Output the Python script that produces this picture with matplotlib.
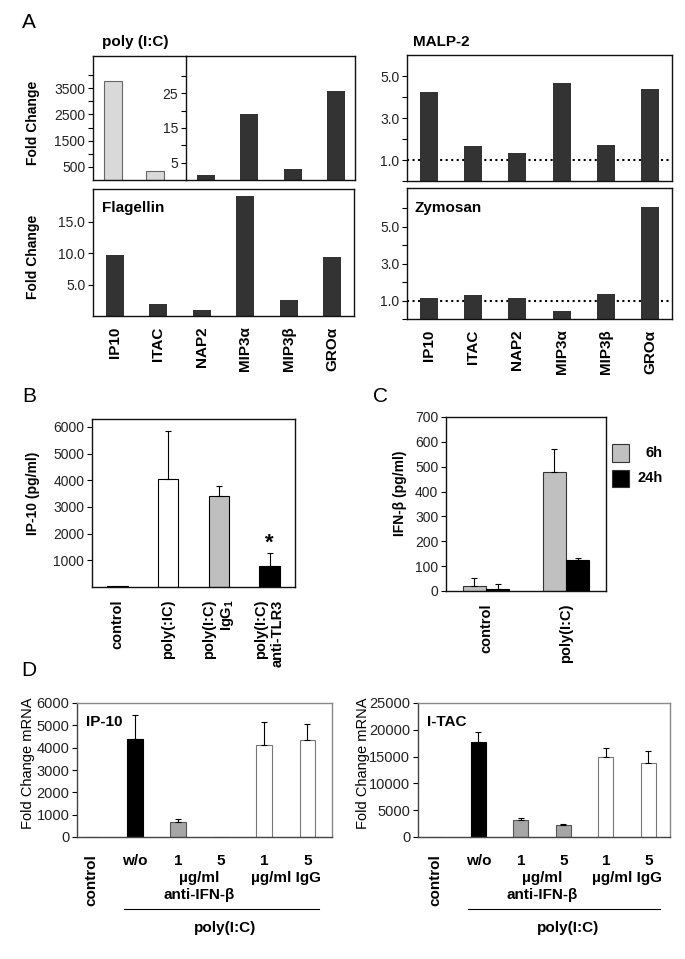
"""
Multi-panel bar figure: chemokine induction by TLR ligands (A), IP-10 / IFN-beta
protein (B, C) and IFN-beta blocking on mRNA (D).
"""

import numpy as np
import matplotlib.pyplot as plt
from matplotlib.patches import Rectangle

plt.rcParams['font.family'] = ['Liberation Sans', 'DejaVu Sans']
plt.rcParams['mathtext.default'] = 'regular'

W, H = 685, 959

# ---- data ----
genes = ["IP10", "ITAC", "NAP2", "MIP3α", "MIP3β", "GROα"]
polyic_fc = [3760, 360, 1.4, 19.1, 3.2, 25.5]
malp2_fc = [4.25, 1.66, 1.32, 4.66, 1.73, 4.36]
flagellin_fc = [9.7, 1.9, 1.0, 19.1, 2.5, 9.4]
zymosan_fc = [1.13, 1.3, 1.15, 0.45, 1.35, 6.07]

b_labels = ["control", "poly(:IC)", "poly(I:C)\nIgG$_1$", "poly(I:C)\nanti-TLR3"]
b_ip10 = [50, 4060, 3410, 805]
b_err = [0, 1790, 380, 485]

c_labels = ["control", "poly(I:C)"]
c_6h = [20, 478]
c_6h_err = [34, 94]
c_24h = [10, 126]
c_24h_err = [20, 8]

d_labels = ["control", "w/o", "1", "5", "1", "5"]
d_ip10 = [0, 4375, 680, 0, 4135, 4330]
d_ip10_err = [0, 1100, 107, 0, 995, 725]
d_itac = [0, 17790, 3260, 2250, 14870, 13860]
d_itac_err = [0, 1870, 240, 130, 1680, 2190]

TXT = '#222222'
DARK = '#333333'

fig = plt.figure(figsize=(W / 100, H / 100), dpi=100)


def px_axes(x0, y0, x1, y1):
    return fig.add_axes([x0 / W, 1 - y1 / H, (x1 - x0) / W, (y1 - y0) / H])


def px_text(x, y, s, **kw):
    fig.text(x / W, 1 - y / H, s, **kw)


def style(ax, major, minor=(), fmt=None, size=10):
    for sp in ax.spines.values():
        sp.set_linewidth(1.0)
        sp.set_color('#111111')
    ax.set_yticks(major)
    if fmt:
        ax.set_yticklabels([fmt % v for v in major])
    ax.set_yticks(minor, minor=True)
    ax.tick_params(axis='y', which='both', direction='out', length=3.5, width=0.8,
                   labelsize=size, labelcolor=TXT, pad=2)
    ax.tick_params(axis='x', length=0)
    ax.set_xticks([])


def err_bars(ax, x, y, err, width=0.8):
    x, y, err = np.asarray(x, float), np.asarray(y, float), np.asarray(err, float)
    m = err > 0
    ax.errorbar(x[m], y[m], yerr=[np.zeros(m.sum()), err[m]], fmt='none',
                ecolor='black', elinewidth=width, capsize=2.5, capthick=width)


# ================= A =================
px_text(29, 22, "A", fontsize=15, ha='center', va='center')
px_text(102, 42, "poly (I:C)", fontsize=11, fontweight='bold', va='center')
px_text(413, 42, "MALP-2", fontsize=11, fontweight='bold', va='center')

# poly(I:C), split scale
axL = px_axes(93, 56, 186, 180)
axL.bar([0, 1], polyic_fc[:2], width=0.43, color='#d9d9d9', edgecolor='#666666', lw=0.8)
axL.set_xlim(-0.48, 1.74)
axL.set_ylim(0, 4730)
style(axL, [500, 1500, 2500, 3500], [1000, 2000, 3000, 4000])
axL.spines['right'].set_visible(False)

axR = px_axes(186, 56, 355, 180)
axR.bar(range(4), polyic_fc[2:], width=0.42, color=DARK)
axR.set_xlim(-0.46, 3.44)
axR.set_ylim(0, 35.7)
style(axR, [5, 15, 25], [10, 20, 30])
axR.patch.set_visible(False)

# MALP-2
axM = px_axes(407, 55, 672, 181)
axM.axhline(1, ls=':', color='black', lw=1.5, zorder=1)
axM.bar(range(6), malp2_fc, width=0.41, color=DARK, zorder=2)
axM.set_xlim(-0.5, 5.5)
axM.set_ylim(0, 6)
style(axM, [1, 3, 5], [0, 2, 4], fmt='%.1f')

# Flagellin
axF = px_axes(93, 189, 354, 316)
axF.bar(range(6), flagellin_fc, width=0.41, color=DARK)
axF.set_xlim(-0.5, 5.5)
axF.set_ylim(0, 20.2)
style(axF, [5, 10, 15], fmt='%.1f')
axF.text(0.035, 0.82, "Flagellin", transform=axF.transAxes, fontsize=11, fontweight='bold')

# Zymosan
axZ = px_axes(407, 188, 672, 319)
axZ.axhline(1, ls=':', color='black', lw=1.5, zorder=1)
axZ.bar(range(6), zymosan_fc, width=0.41, color=DARK, zorder=2)
axZ.set_xlim(-0.5, 5.5)
axZ.set_ylim(0, 7.1)
style(axZ, [1, 3, 5], [0, 2, 4, 6], fmt='%.1f')
axZ.text(0.03, 0.82, "Zymosan", transform=axZ.transAxes, fontsize=11, fontweight='bold')

for ax in (axF, axZ):
    ax.set_xticks(range(6))
    ax.set_xticklabels(genes, rotation=90, fontsize=11, fontweight='bold')
    ax.tick_params(axis='x', length=0, pad=7.5)

px_text(33, 123, "Fold Change", rotation=90, fontsize=10, fontweight='bold', ha='center', va='center')
px_text(33, 257, "Fold Change", rotation=90, fontsize=10, fontweight='bold', ha='center', va='center')

# ================= B =================
px_text(29, 397, "B", fontsize=15, ha='center', va='center')
axB = px_axes(92, 419, 295, 587)
xb = np.arange(4)
axB.bar(xb, b_ip10, width=0.4, color=[DARK, 'white', '#bfbfbf', 'black'],
        edgecolor='black', lw=0.8)
err_bars(axB, xb, b_ip10, b_err)
axB.set_xlim(-0.5, 3.5)
axB.set_ylim(0, 6300)
style(axB, [1000, 2000, 3000, 4000, 5000, 6000])
axB.set_xticks(xb)
axB.set_xticklabels(b_labels, rotation=90, fontsize=10.5, fontweight='bold',
                    multialignment='right')
axB.tick_params(axis='x', length=0, pad=9)
axB.text(3, 1650, "*", ha='center', va='center', fontsize=16, fontweight='bold')
px_text(33, 493, "IP-10 (pg/ml)", rotation=90, fontsize=10, fontweight='bold', ha='center', va='center')

# ================= C =================
px_text(380, 397, "C", fontsize=15, ha='center', va='center')
axC = px_axes(446, 417, 606, 591)
xc = np.arange(2)
bw = 0.29
axC.bar(xc - bw / 2, c_6h, width=bw, color='#c0c0c0', edgecolor='#333333', lw=0.8)
axC.bar(xc + bw / 2, c_24h, width=bw, color='black', edgecolor='black', lw=0.8)
err_bars(axC, xc - bw / 2, c_6h, c_6h_err)
err_bars(axC, xc + bw / 2, c_24h, c_24h_err)
axC.set_xlim(-0.5, 1.5)
axC.set_ylim(0, 700)
style(axC, list(range(0, 701, 100)))
axC.set_xticks(xc)
axC.set_xticklabels(c_labels, rotation=90, fontsize=10.5, fontweight='bold')
axC.tick_params(axis='x', length=0, pad=9)
px_text(400, 493, "IFN-β (pg/ml)", rotation=90, fontsize=10, fontweight='bold', ha='center', va='center')

# legend for C
for (y0, y1), col, lab, ty in [((444, 462), '#c0c0c0', "6h", 453), ((470, 487), 'black', "24h", 478)]:
    fig.patches.append(Rectangle((612 / W, 1 - y1 / H), 17 / W, (y1 - y0) / H,
                                 transform=fig.transFigure, facecolor=col,
                                 edgecolor='#333333', lw=0.8))
    px_text(663, ty, lab, fontsize=10.5, fontweight='bold', ha='right', va='center')

# ================= D =================
px_text(29, 670, "D", fontsize=15, ha='center', va='center')


def panel_d(box, xlim, vals, errs, ymax, yticks, name):
    ax = px_axes(*box)
    h_px = box[3] - box[1]
    xd = np.arange(6)
    cols = ['white', 'black', '#a6a6a6', '#a6a6a6', 'white', 'white']
    edges = ['#777777', 'black', '#555555', '#555555', '#777777', '#777777']
    ax.bar(xd, vals, width=0.36, color=cols, edgecolor=edges, lw=0.8)
    err_bars(ax, xd, vals, errs, width=0.8)
    ax.set_xlim(*xlim)
    ax.set_ylim(0, ymax)
    style(ax, yticks, size=10.5)
    for side in ('top', 'right'):
        ax.spines[side].set_color('#888888')
    for side in ('left', 'bottom'):
        ax.spines[side].set_color('#444444')
    ax.set_xticks(xd)
    ax.set_xticklabels(d_labels, fontsize=11, fontweight='bold')
    ax.get_xticklabels()[0].set_rotation(90)
    ax.tick_params(axis='x', length=0, pad=12)
    ax.text(0.035, 0.86, name, transform=ax.transAxes, fontsize=11, fontweight='bold', va='center')

    tr = ax.get_xaxis_transform()
    kw = dict(transform=tr, ha='center', va='center', fontsize=11, fontweight='bold', clip_on=False)
    ax.text(2.5, -41 / h_px, "µg/ml", **kw)
    ax.text(2.5, -58 / h_px, "anti-IFN-β", **kw)
    ax.text(4.5, -41 / h_px, "µg/ml IgG", **kw)
    ax.plot([0.76, 5.27], [-72 / h_px] * 2, transform=tr, color='black', lw=0.8, clip_on=False)
    ax.text(3.1, -91 / h_px, "poly(I:C)", **kw)
    return ax


panel_d((77, 703, 332, 837), (-0.34, 5.57), d_ip10, d_ip10_err, 6000,
        list(range(0, 6001, 1000)), "IP-10")
panel_d((418, 703, 670, 837), (-0.42, 5.51), d_itac, d_itac_err, 25000,
        list(range(0, 25001, 5000)), "I-TAC")

px_text(28, 763, "Fold Change mRNA", rotation=90, fontsize=10.5, ha='center', va='center')
px_text(363, 763, "Fold Change mRNA", rotation=90, fontsize=10.5, ha='center', va='center')

fig.savefig("out.png", dpi=100, facecolor='white')
